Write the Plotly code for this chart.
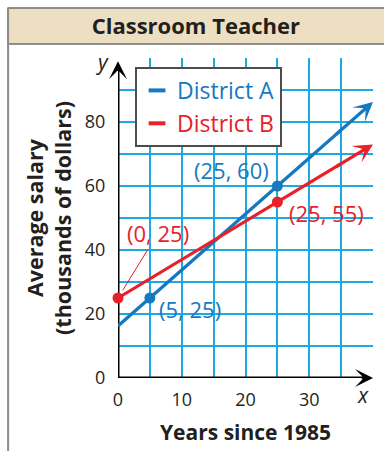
import plotly.graph_objects as go

# ---------------- data ----------------
years_a = [5, 25]
salary_a = [25, 60]
years_b = [0, 25]
salary_b = [25, 55]
label_a = ["(5, 25)", "(25, 60)"]
label_b = ["(0, 25)", "(25, 55)"]
x_grid = [0, 5, 10, 15, 20, 25, 30, 35, 40]
x_ticks = [0, 10, 20, 30]
y_grid = [0, 10, 20, 30, 40, 50, 60, 70, 80, 90, 100]
y_ticks = [0, 20, 40, 60, 80]
x_range = [0, 40]
y_range = [0, 100]

BLUE = "#1679BF"
RED = "#E8202A"
GRID = "#1FA9E1"
TEXT = "#231F20"
FONT = "Open Sans"


def line_y(xs, ys, x):
    slope = (ys[1] - ys[0]) / (xs[1] - xs[0])
    return ys[0] + slope * (x - xs[0])


fig = go.Figure()

x_lo, x_hi = x_range
x_mid = x_hi - 5  # where arrow segment starts

for xs, ys, col, name in [(years_a, salary_a, BLUE, "District A"),
                          (years_b, salary_b, RED, "District B")]:
    fig.add_trace(go.Scatter(
        x=[x_lo, x_mid], y=[line_y(xs, ys, x_lo), line_y(xs, ys, x_mid)],
        mode="lines", line=dict(color=col, width=3.2),
        showlegend=False, hoverinfo="skip", cliponaxis=False))
    fig.add_annotation(
        x=x_hi, y=line_y(xs, ys, x_hi), ax=x_mid - 1, ay=line_y(xs, ys, x_mid - 1),
        xref="x", yref="y", axref="x", ayref="y", text="", showarrow=True,
        arrowhead=3, arrowsize=1.0, arrowwidth=3.2, arrowcolor=col)

for xs, ys, col in [(years_a, salary_a, BLUE), (years_b, salary_b, RED)]:
    fig.add_trace(go.Scatter(
        x=xs, y=ys, mode="markers", marker=dict(size=11, color=col),
        showlegend=False, cliponaxis=False, hoverinfo="skip"))

# legend entries
for col, name in [(BLUE, "District A"), (RED, "District B")]:
    fig.add_trace(go.Scatter(
        x=[None], y=[None], mode="markers",
        marker=dict(symbol="line-ew", size=12, color=col, line=dict(width=4, color=col)),
        name=f"<span style='color:{col}'>{name}</span>"))

# point labels
ann_font = dict(family=FONT, size=22)
fig.add_annotation(x=years_a[1], y=salary_a[1], text=label_a[1], showarrow=False,
                   xshift=-46, yshift=16, font=dict(color=BLUE, **ann_font))
fig.add_annotation(x=years_a[0], y=salary_a[0], text=label_a[0], showarrow=False,
                   xshift=40, yshift=-11, font=dict(color=BLUE, **ann_font))
fig.add_annotation(x=years_b[1], y=salary_b[1], text=label_b[1], showarrow=False,
                   xshift=49, yshift=-11, font=dict(color=RED, **ann_font))
fig.add_annotation(x=years_b[0], y=salary_b[0], text=label_b[0], showarrow=True,
                   ax=40, ay=-65, arrowhead=0, arrowwidth=1, arrowcolor=RED,
                   standoff=9, font=dict(color=RED, **ann_font))

# axes lines (below traces) with arrowheads
fig.add_shape(type="line", x0=x_lo, x1=x_hi - 1, y0=y_range[0], y1=y_range[0],
              xref="x", yref="y", layer="between", line=dict(color="black", width=3))
fig.add_shape(type="line", x0=x_lo, x1=x_lo, y0=y_range[0], y1=y_range[1] - 3,
              xref="x", yref="y", layer="between", line=dict(color="black", width=3))
fig.add_annotation(x=x_hi, y=y_range[0], ax=x_hi - 2, ay=y_range[0], xref="x", yref="y",
                   axref="x", ayref="y", text="", showarrow=True, arrowhead=3,
                   arrowsize=1.0, arrowwidth=3, arrowcolor="black")
fig.add_annotation(x=x_lo, y=y_range[1] - 1, ax=x_lo, ay=y_range[1] - 4, xref="x", yref="y",
                   axref="x", ayref="y", text="", showarrow=True, arrowhead=3,
                   arrowsize=1.0, arrowwidth=3, arrowcolor="black")
fig.add_annotation(x=x_hi, y=y_range[0], text="<i>x</i>", showarrow=False,
                   xshift=-10, yshift=-17, font=dict(family=FONT, size=21, color=TEXT))
fig.add_annotation(x=x_lo, y=y_range[1], text="<i>y</i>", showarrow=False,
                   xshift=-16, yshift=-4, font=dict(family=FONT, size=21, color=TEXT))

# frame: title band + left border
fig.add_shape(type="rect", xref="paper", yref="paper", x0=-0.431, x1=1.1, y0=1.044, y1=1.156,
              fillcolor="#EDDFC2", line=dict(color="#6E6E6E", width=1.5), layer="below")
fig.add_shape(type="line", xref="paper", yref="paper", x0=-0.431, x1=-0.431, y0=1.156, y1=-0.25,
              line=dict(color="#8C8C8C", width=2), layer="below")

x_text = [str(v) if v in x_ticks else "" for v in x_grid]
y_text = [str(v) if v in y_ticks else "" for v in y_grid]

fig.update_layout(
    width=384, height=451,
    margin=dict(l=118, r=11, t=58, b=73, autoexpand=False),
    paper_bgcolor="white", plot_bgcolor="white",
    title=dict(text="<b>Classroom Teacher</b>", x=0.51, xref="container", xanchor="center",
               y=1 - 26 / 451, yref="container", yanchor="middle",
               font=dict(family=FONT, size=22, color=TEXT)),
    font=dict(family=FONT, color=TEXT),
    legend=dict(x=0.0667, y=0.972, xanchor="left", yanchor="top", bgcolor="white",
                bordercolor="#4D4D4D", borderwidth=2, itemwidth=30,
                font=dict(family=FONT, size=23), tracegroupgap=0),
    xaxis=dict(range=x_range, tickvals=x_grid, ticktext=x_text, showgrid=True,
               gridcolor=GRID, gridwidth=1.5, automargin=False,
               zeroline=False, showline=False, ticks="outside", ticklen=5,
               tickcolor="rgba(0,0,0,0)", tickfont=dict(size=18, color=TEXT),
               title=dict(text="<b>Years since 1985</b>", font=dict(size=21, color=TEXT))),
    yaxis=dict(range=y_range, tickvals=y_grid, ticktext=y_text, showgrid=True,
               gridcolor=GRID, gridwidth=1.5, automargin=False,
               zeroline=False, showline=False, ticks="outside", ticklen=8,
               tickcolor="rgba(0,0,0,0)", tickfont=dict(size=18, color=TEXT),
               title=dict(text="<b>Average salary<br>(thousands of dollars)</b>",
                          font=dict(size=21.5, color=TEXT), standoff=7)),
)

fig.write_html("out.html", config={"displayModeBar": False},
               post_script="document.body.style.margin='0';")
